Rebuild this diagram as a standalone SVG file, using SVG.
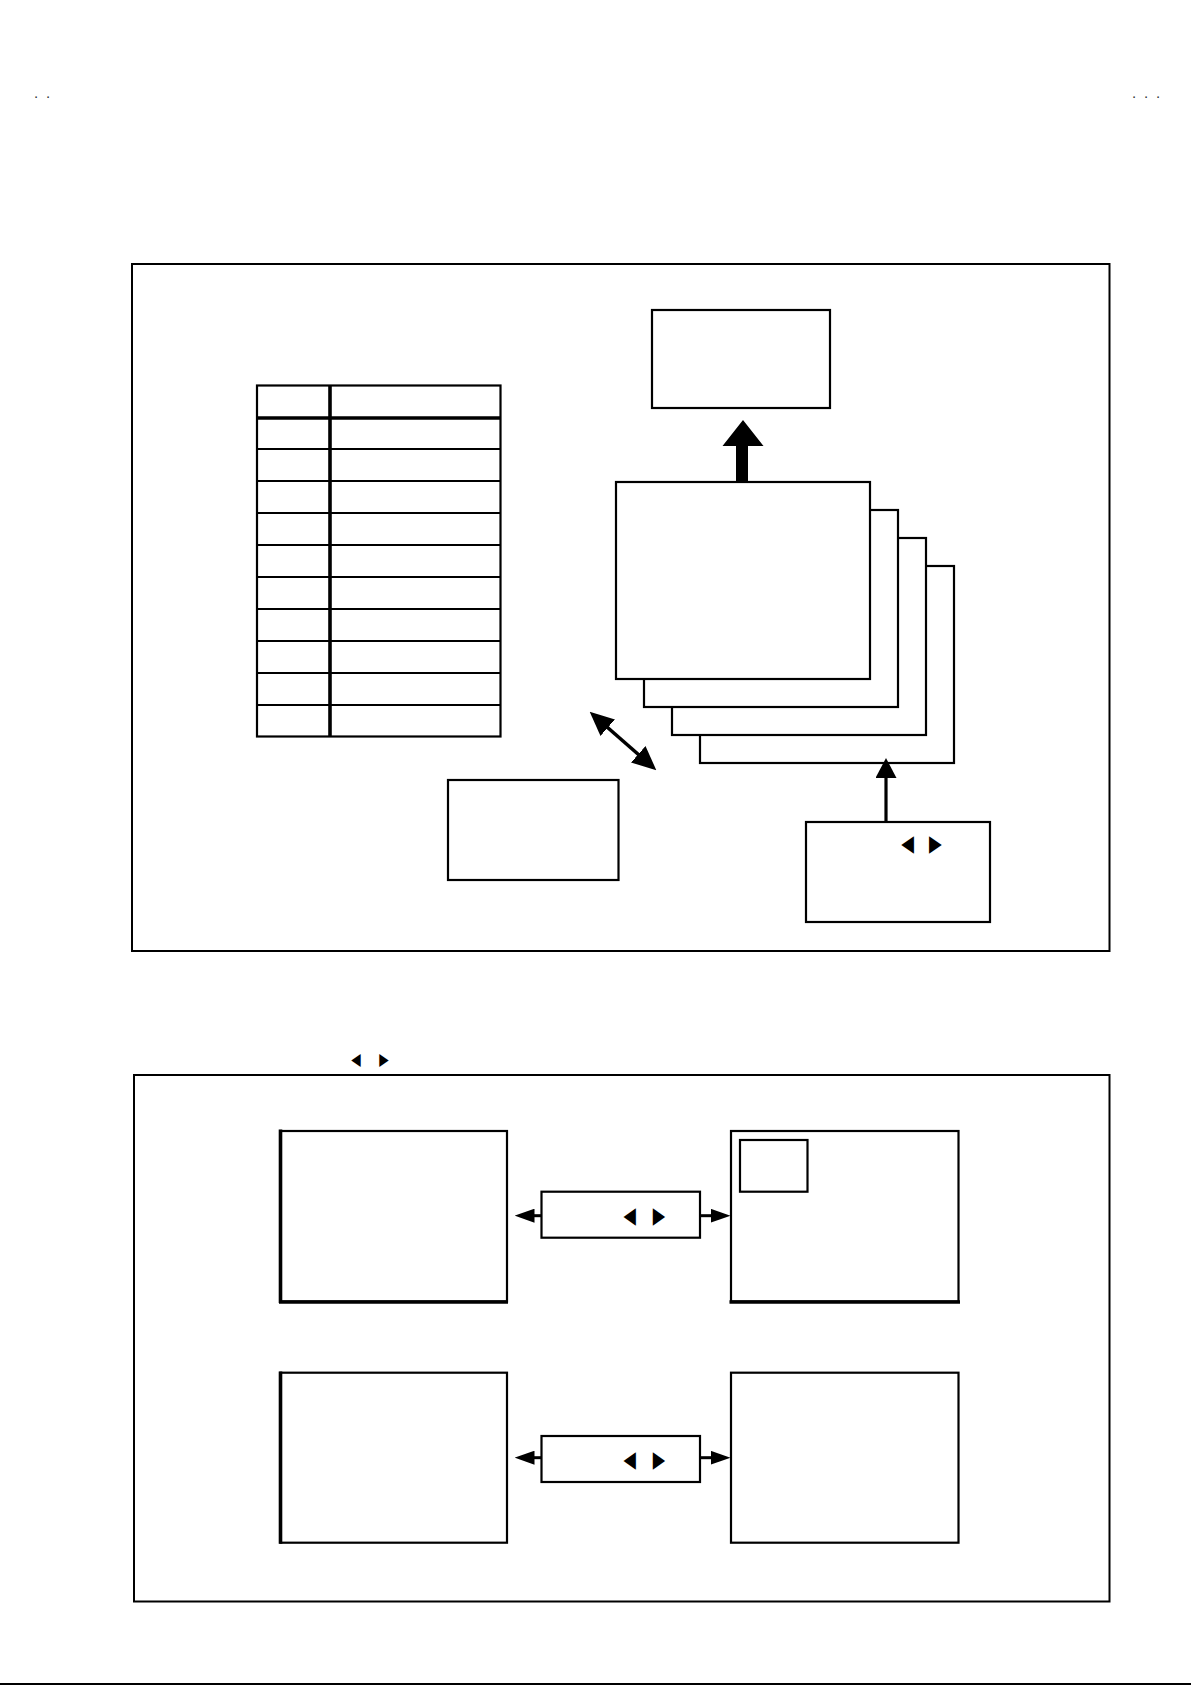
<svg xmlns="http://www.w3.org/2000/svg" width="1191" height="1685" viewBox="0 0 1191 1685">
<style>
.box{fill:#fff;stroke:#000;stroke-width:2.2}
.frame{fill:none;stroke:#000;stroke-width:2}
.thin{stroke:#000;stroke-width:2.2;fill:none}
.thick{stroke:#000;stroke-width:3.6;fill:none}
.tri{font-family:"DejaVu Sans",sans-serif;fill:#000;text-anchor:middle}
.dot{font-family:"Liberation Sans",sans-serif;font-size:15px;fill:#333}
.conn{stroke:#000;fill:none}
</style>
<defs>
<marker id="ahA" markerUnits="userSpaceOnUse" viewBox="0 0 24 22" markerWidth="24" markerHeight="22" refX="1" refY="11" orient="auto-start-reverse"><path d="M0,0 L24,11 L0,22 z" fill="#000"/></marker>
<marker id="ahB" markerUnits="userSpaceOnUse" viewBox="0 0 20 21" markerWidth="20" markerHeight="21" refX="1" refY="10.5" orient="auto-start-reverse"><path d="M0,0 L20,10.5 L0,21 z" fill="#000"/></marker>
<marker id="ahC" markerUnits="userSpaceOnUse" viewBox="0 0 20 14" markerWidth="20" markerHeight="14" refX="1" refY="7" orient="auto-start-reverse"><path d="M0,0 L20,7 L0,14 z" fill="#000"/></marker>
</defs>
<rect width="1191" height="1685" fill="#fff"/>

<g id="page-marks">
<text class="dot"><tspan x="34" y="97.5">.</tspan><tspan x="46" y="97.5">.</tspan></text>
<text class="dot"><tspan x="1132" y="97.5">.</tspan><tspan x="1144" y="97.5">.</tspan><tspan x="1156" y="97.5">.</tspan></text>
<line x1="0" y1="1684" x2="1191" y2="1684" stroke="#000" stroke-width="2"/>
</g>

<g id="frame-top"><rect class="frame" x="132" y="264" width="977.5" height="687"/></g>
<g id="frame-bottom"><rect class="frame" x="134" y="1075" width="975.5" height="526.5"/></g>

<g id="table">
<rect class="box" x="257" y="385.5" width="243.5" height="351"/>
<line class="thick" x1="330" y1="385.5" x2="330" y2="736.5"/>
<line class="thick" x1="257" y1="418" x2="500.5" y2="418" stroke-width="3.2"/>
<line class="thin" x1="257" y1="449" x2="500.5" y2="449"/>
<line class="thin" x1="257" y1="481" x2="500.5" y2="481"/>
<line class="thin" x1="257" y1="513" x2="500.5" y2="513"/>
<line class="thin" x1="257" y1="545" x2="500.5" y2="545"/>
<line class="thin" x1="257" y1="577" x2="500.5" y2="577"/>
<line class="thin" x1="257" y1="609" x2="500.5" y2="609"/>
<line class="thin" x1="257" y1="641" x2="500.5" y2="641"/>
<line class="thin" x1="257" y1="673" x2="500.5" y2="673"/>
<line class="thin" x1="257" y1="705" x2="500.5" y2="705"/>
</g>

<g id="top-box"><rect class="box" x="652" y="310" width="178" height="98"/></g>

<g id="stack">
<rect class="box" x="700" y="566" width="254" height="197"/>
<rect class="box" x="672" y="538" width="254" height="197"/>
<rect class="box" x="644" y="510" width="254" height="197"/>
<rect class="box" x="616" y="482" width="254" height="197"/>
</g>

<g id="small-box"><rect class="box" x="448" y="780" width="170.5" height="100"/></g>

<g id="key-box">
<rect class="box" x="806" y="822" width="184" height="100"/>
<text class="tri" font-size="23" transform="translate(921.5 851.2) scale(0.72 1)"><tspan x="-19.4" y="0">◀</tspan><tspan x="19.4" y="0">▶</tspan></text>
</g>

<g id="header-keys">
<text class="tri" font-size="17" transform="translate(370 1065.1) scale(0.72 1)"><tspan x="-19.4" y="0">◀</tspan><tspan x="19.4" y="0">▶</tspan></text>
</g>

<g id="screen-1"><rect class="box" x="280.5" y="1131" width="226.5" height="170.5"/>
<line class="thick" x1="280.5" y1="1129.5" x2="280.5" y2="1303"/><line class="thick" x1="279" y1="1302" x2="508" y2="1302" stroke-width="3.2"/></g>
<g id="key-1"><rect class="box" x="541.5" y="1191.7" width="158.5" height="46"/>
<text class="tri" font-size="23" transform="translate(644.3 1222.9) scale(0.7 1)"><tspan x="-21" y="0">◀</tspan><tspan x="21" y="0">▶</tspan></text></g>
<g id="screen-2"><rect class="box" x="731" y="1131" width="227.5" height="170.5"/>
<line class="thick" x1="729.5" y1="1302" x2="960" y2="1302" stroke-width="3.2"/>
<rect class="box" x="740" y="1140" width="67.5" height="51.7"/></g>

<g id="screen-3"><rect class="box" x="280.5" y="1372.7" width="226.5" height="170"/>
<line class="thick" x1="280.5" y1="1371.5" x2="280.5" y2="1543.7"/></g>
<g id="key-2"><rect class="box" x="541.5" y="1436" width="158.5" height="46"/>
<text class="tri" font-size="23" transform="translate(644.3 1466.9) scale(0.7 1)"><tspan x="-21" y="0">◀</tspan><tspan x="21" y="0">▶</tspan></text></g>
<g id="screen-4"><rect class="box" x="731" y="1372.7" width="227.5" height="170"/></g>

<g id="connectors">
<path d="M736,481 L736,446 L722.5,446 L743,420 L763.5,446 L748,446 L748,481 z" fill="#000"/>
<line class="conn" x1="607" y1="727" x2="639" y2="755" stroke-width="3.6" marker-start="url(#ahA)" marker-end="url(#ahA)"/>
<line class="conn" x1="886" y1="821" x2="886" y2="777" stroke-width="3.2" marker-end="url(#ahB)"/>
<line class="conn" x1="541.5" y1="1215.7" x2="533.5" y2="1215.7" stroke-width="3" marker-end="url(#ahC)"/>
<line class="conn" x1="700" y1="1215.7" x2="711.5" y2="1215.7" stroke-width="3" marker-end="url(#ahC)"/>
<line class="conn" x1="541.5" y1="1457.7" x2="533.5" y2="1457.7" stroke-width="3" marker-end="url(#ahC)"/>
<line class="conn" x1="700" y1="1457.7" x2="711.5" y2="1457.7" stroke-width="3" marker-end="url(#ahC)"/>
</g>
</svg>
